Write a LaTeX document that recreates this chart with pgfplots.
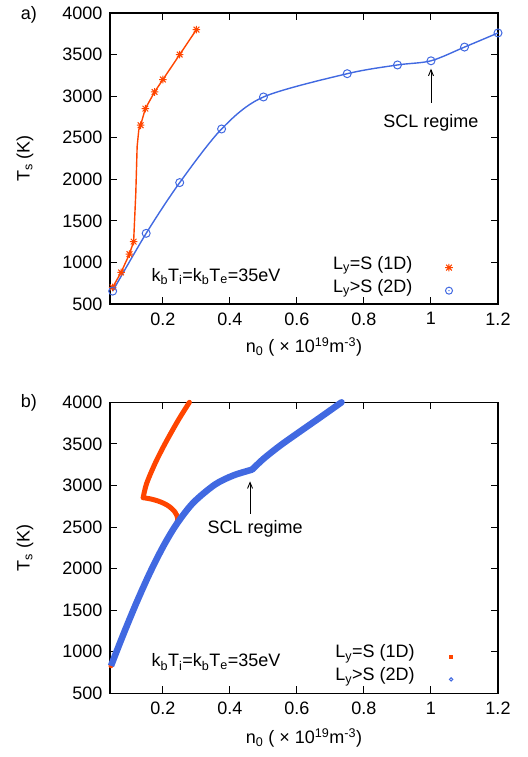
\documentclass[border=0pt]{standalone}
\usepackage{fontspec}
\setmainfont{Liberation Sans}
\usepackage{pgfplots}
\pgfplotsset{compat=1.18}
\usetikzlibrary{arrows.meta}
\definecolor{gpor}{RGB}{255,69,0}
\definecolor{gpbl}{RGB}{65,105,225}
\pgfdeclareplotmark{gpstar}{%
  \pgfpathmoveto{\pgfqpoint{-\pgfplotmarksize}{0pt}}\pgfpathlineto{\pgfqpoint{\pgfplotmarksize}{0pt}}%
  \pgfpathmoveto{\pgfqpoint{0pt}{-\pgfplotmarksize}}\pgfpathlineto{\pgfqpoint{0pt}{\pgfplotmarksize}}%
  \pgfpathmoveto{\pgfqpoint{-0.75\pgfplotmarksize}{-0.75\pgfplotmarksize}}\pgfpathlineto{\pgfqpoint{0.75\pgfplotmarksize}{0.75\pgfplotmarksize}}%
  \pgfpathmoveto{\pgfqpoint{-0.75\pgfplotmarksize}{0.75\pgfplotmarksize}}\pgfpathlineto{\pgfqpoint{0.75\pgfplotmarksize}{-0.75\pgfplotmarksize}}%
  \pgfusepathqstroke}
\pgfdeclareplotmark{circdot}{%
  \pgfpathcircle{\pgfpointorigin}{\pgfplotmarksize}\pgfusepathqstroke
  \pgfpathcircle{\pgfpointorigin}{0.7bp}\pgfusepathqfill}
\pgfplotsset{
  myax/.style={
    scale only axis, width=388bp, height=291bp,
    xmin=0.042, xmax=1.2, ymin=500, ymax=4000,
    xtick={0.2,0.4,0.6,0.8,1,1.2},
    xticklabels={0.2,0.4,0.6,0.8,1,1.2},
    ytick={500,1000,1500,2000,2500,3000,3500,4000},
    yticklabels={500,1000,1500,2000,2500,3000,3500,4000},
    xtick pos=both, ytick pos=both, tick align=inside,
    major tick length=7bp,
    axis line style={line width=1.3bp},
    every tick/.style={black, line width=1bp},
    yticklabel style={xshift=-4bp},
    xticklabel style={yshift=-5bp},
    ylabel={T\textsubscript{s} (K)},
    ylabel style={at={(axis description cs:-0.219,0.5)}, anchor=center},
    xlabel={n\textsubscript{0} ( × 10\textsuperscript{19}m\textsuperscript{-3})},
    clip=false,
    legend image code/.code={\path (0bp,0bp) (36bp,0bp); \draw[##1] plot coordinates {(36bp,0bp)};},
    legend cell align=right, legend plot pos=right,
    legend style={draw=none, fill=none, inner sep=0pt, row sep=0pt,
      nodes={inner sep=0pt, text height=13bp, text depth=10bp}},
  }
}
\begin{document}
\begin{tikzpicture}[font=\fontsize{18bp}{21bp}\selectfont]
\useasboundingbox (0,0) rectangle (528bp,757bp);
% ---------------- a) ----------------
\begin{axis}[myax, at={(110bp,453bp)}, anchor=south west,
  xlabel style={at={(axis description cs:0.5,-0.147)}, anchor=center},
  legend style={at={(rel axis cs:0.884,0.165)}, anchor=north east}]
\addplot[gpor, line width=1.4bp, forget plot] coordinates {
(0.05,700) (0.075,880) (0.1,1100) (0.1125,1250) (0.119,1834) (0.123,2395) (0.128,2596) (0.1333,2650)
(0.1475,2850) (0.175,3050) (0.2,3200) (0.25,3500) (0.3,3800)};
\addplot[gpor, only marks, mark=gpstar, mark size=3.8bp, line width=1bp, forget plot] coordinates {
(0.05,700) (0.075,880) (0.1,1100) (0.1125,1250) (0.1333,2650)
(0.1475,2850) (0.175,3050) (0.2,3200) (0.25,3500) (0.3,3800)};
\addplot[gpbl, line width=1.4bp, smooth, forget plot] coordinates {
(0.05,655) (0.15,1350) (0.25,1960) (0.375,2605) (0.5,2990) (0.75,3270) (0.9,3375) (1.0,3425) (1.1,3590) (1.2,3760)};
\addplot[gpbl, only marks, mark=o, mark size=4bp, line width=1bp, forget plot] coordinates {
(0.05,655) (0.15,1350) (0.25,1960) (0.375,2605) (0.5,2990) (0.75,3270) (0.9,3375) (1.0,3425) (1.1,3590) (1.2,3760)};
\addlegendimage{gpor, only marks, mark=gpstar, mark size=3.8bp, line width=1bp}
\addlegendentry{L\textsubscript{y}=S (1D)}
\addlegendimage{gpbl, only marks, mark=circdot, mark size=3.5bp, line width=1bp}
\addlegendentry{L\textsubscript{y}>S (2D)}
\draw[-{Straight Barb[length=6bp,width=5bp]}, line width=0.9bp] (axis cs:1.0,2920) -- (axis cs:1.0,3330);
\node[anchor=base] at (axis cs:1.0,2624) {SCL regime};
\node[anchor=base west] at (rel axis cs:0.098,0.079) {k\textsubscript{b}T\textsubscript{i}=k\textsubscript{b}T\textsubscript{e}=35eV};
\node at (rel axis cs:-0.209,0.993) {a)};
\end{axis}
% ---------------- b) ----------------
\begin{axis}[myax, at={(110bp,63.7bp)}, anchor=south west,
  xlabel style={at={(axis description cs:0.5,-0.154)}, anchor=center},
  legend style={at={(rel axis cs:0.884,0.167)}, anchor=north east}]
\addplot[gpor, line width=5bp, line join=round, line cap=round, smooth, forget plot] coordinates {
(0.045,830) (0.08,1190) (0.12,1580) (0.16,1940) (0.2,2260) (0.23,2470) (0.243,2560) (0.244,2610)
(0.236,2680) (0.221,2740) (0.205,2780) (0.186,2812) (0.165,2836) (0.141,2853)};
\addplot[gpor, line width=5bp, line join=round, line cap=round, smooth, forget plot] coordinates {
(0.141,2853) (0.151,3020) (0.176,3260) (0.206,3500) (0.245,3780) (0.279,4000)};
\addplot[gpbl, line width=6.5bp, line join=round, smooth, forget plot] coordinates {
(0.045,830) (0.08,1190) (0.12,1580) (0.16,1940) (0.2,2260) (0.24,2530) (0.29,2790) (0.355,3010)
(0.41,3120) (0.466,3190)};
\addplot[gpbl, line width=6.5bp, line join=round, line cap=round, smooth, forget plot] coordinates {
(0.466,3190) (0.5,3320) (0.55,3480) (0.606,3640) (0.67,3820) (0.733,4000)};
\addlegendimage{gpor, only marks, mark=square*, mark size=1.6bp}
\addlegendentry{L\textsubscript{y}=S (1D)}
\addlegendimage{gpbl, only marks, mark=o, mark size=1.7bp, line width=1bp}
\addlegendentry{L\textsubscript{y}>S (2D)}
\draw[-{Straight Barb[length=6bp,width=5bp]}, line width=0.9bp] (axis cs:0.46,2660) -- (axis cs:0.46,3050);
\node[anchor=base] at (axis cs:0.475,2428) {SCL regime};
\node[anchor=base west] at (rel axis cs:0.098,0.091) {k\textsubscript{b}T\textsubscript{i}=k\textsubscript{b}T\textsubscript{e}=35eV};
\node at (rel axis cs:-0.209,0.998) {b)};
\end{axis}
\end{tikzpicture}
\end{document}
